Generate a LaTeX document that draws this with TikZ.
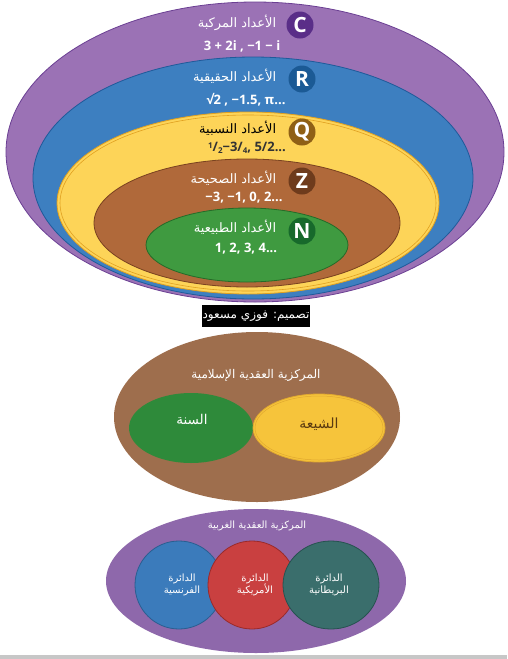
\documentclass[tikz,border=0pt]{standalone}
\usepackage{fontspec}
\setmainfont{Open Sans}
\newfontfamily\arabicfont[Script=Arabic]{DejaVu Sans}
\TeXXeTstate=1

% colours
\definecolor{cplfill}{HTML}{9B72B5}
\definecolor{cpldraw}{HTML}{6B3F93}
\definecolor{relfill}{HTML}{3D7FC0}
\definecolor{reldraw}{HTML}{1F5A9A}
\definecolor{ratfill}{HTML}{FDD458}
\definecolor{ratdraw}{HTML}{E0A020}
\definecolor{intfill}{HTML}{B0693A}
\definecolor{intdraw}{HTML}{7A4220}
\definecolor{natfill}{HTML}{3F9A40}
\definecolor{natdraw}{HTML}{256B28}
\definecolor{cpldisk}{HTML}{5A2E88}
\definecolor{reldisk}{HTML}{1B5A95}
\definecolor{ratdisk}{HTML}{8F6016}
\definecolor{intdisk}{HTML}{6E3B1C}
\definecolor{natdisk}{HTML}{17692B}
\definecolor{islfill}{HTML}{9E6E4D}
\definecolor{sunfill}{HTML}{2E8A3A}
\definecolor{shifill}{HTML}{F6C43B}
\definecolor{shidraw}{HTML}{E0A830}
\definecolor{shitext}{HTML}{5A3A10}
\definecolor{wstfill}{HTML}{8E68AB}
\definecolor{frfill}{HTML}{3B7BBB}
\definecolor{frdraw}{HTML}{2A5E90}
\definecolor{usfill}{HTML}{C94040}
\definecolor{usdraw}{HTML}{9A2A2A}
\definecolor{ukfill}{HTML}{3A6E6C}
\definecolor{ukdraw}{HTML}{275250}

\newcommand{\artxt}[1]{{\arabicfont\beginR #1\endR}}
\newcommand{\sfrac}[2]{\raisebox{0.45ex}{\footnotesize #1}/\raisebox{-0.35ex}{\footnotesize #2}}

\tikzset{
  setletter/.style={circle, fill=#1, text=white, font=\bfseries\fontsize{21}{22}\selectfont,
    minimum size=27pt, inner sep=0pt},
  setname/.style={anchor=east, text=white, font=\fontsize{13}{15}\selectfont},
  setnums/.style={text=white, font=\bfseries\fontsize{13}{15}\selectfont},
  vennlabel/.style={text=white, align=center, font=\fontsize{12}{14}\selectfont},
  smalllabel/.style={text=white, align=center, font=\fontsize{10}{12.5}\selectfont}
}

\begin{document}
\begin{tikzpicture}[x=1pt, y=-1pt, line width=0.8pt]

\useasboundingbox (0,0) rectangle (507,659);
\fill[white] (0,0) rectangle (507,659);

% Nested number sets
\filldraw[fill=cplfill, draw=cpldraw] (255,152) ellipse [x radius=249, y radius=150];
\filldraw[fill=relfill, draw=reldraw] (253,178) ellipse [x radius=220, y radius=121];
\filldraw[fill=ratfill, draw=ratdraw] (248,203) ellipse [x radius=191, y radius=91];
\draw[ratdraw, line width=0.6pt] (248,203) ellipse [x radius=188, y radius=88];
\filldraw[fill=intfill, draw=intdraw] (247,223) ellipse [x radius=153, y radius=64];
\filldraw[fill=natfill, draw=natdraw] (247,245) ellipse [x radius=101, y radius=37];

% Set letters
\node[setletter=cpldisk] (C) at (300,25) {C};
\node[setletter=reldisk] (R) at (302,79) {R};
\node[setletter=ratdisk] (Q) at (302,132) {Q};
\node[setletter=intdisk] (Z) at (302,181) {Z};
\node[setletter=natdisk] (N) at (302,231) {N};

% Set names
\node[setname] (cname) at (280,23) {\artxt{الأعداد المركبة}};
\node[setname] (rname) at (280,76) {\artxt{الأعداد الحقيقية}};
\node[setname, text=black] (qname) at (280,128) {\artxt{الأعداد النسبية}};
\node[setname] (zname) at (280,178) {\artxt{الأعداد الصحيحة}};
\node[setname] (nname) at (280,227) {\artxt{الأعداد الطبيعية}};

% Examples
\node[setnums] (cnums) at (242,46) {3 + 2i , −1 − i};
\node[setnums] (rnums) at (246,100) {√2 , −1.5, π...};
\node[setnums, text=black!80] (qnums) at (247,148) {\sfrac{1}{2}−3/\raisebox{-0.35ex}{\footnotesize 4}, 5/2...};
\node[setnums] (znums) at (244,198) {−3, −1, 0, 2...};
\node[setnums] (nnums) at (246,249) {1, 2, 3, 4...};

% Credit
\node[fill=black, text=white, font=\fontsize{12}{14}\selectfont, minimum width=108pt,
  minimum height=22pt, inner sep=1pt] (credit) at (256,316) {\artxt{تصميم: فوزي مسعود}};

% Islamic centrality
\fill[islfill] (257,417) ellipse [x radius=143, y radius=85];
\fill[sunfill] (191,428) ellipse [x radius=62, y radius=35];
\filldraw[fill=shifill, draw=shidraw] (319,428) ellipse [x radius=66, y radius=34];
\draw[shidraw, line width=0.5pt] (319,428) ellipse [x radius=64, y radius=32];
\node[vennlabel] (islam) at (256,375) {\artxt{المركزية العقدية الإسلامية}};
\node[vennlabel, font=\fontsize{13.5}{15}\selectfont] (sunna) at (192,419) {\artxt{السنة}};
\node[vennlabel, text=shitext, font=\fontsize{14}{16}\selectfont] (shia) at (319,424) {\artxt{الشيعة}};

% Western centrality
\fill[wstfill] (256,581) ellipse [x radius=150, y radius=72];
\filldraw[fill=frfill, draw=frdraw] (179,585) circle [radius=44];
\filldraw[fill=usfill, draw=usdraw] (252,585) circle [radius=44];
\filldraw[fill=ukfill, draw=ukdraw] (331,585) ellipse [x radius=48, y radius=44];
\node[smalllabel] (west) at (257,526) {\artxt{المركزية العقدية الغربية}};
\node[smalllabel] (france) at (182,585) {\artxt{الدائرة}\\\artxt{الفرنسية}};
\node[smalllabel] (usa) at (255,585) {\artxt{الدائرة}\\\artxt{الأمريكية}};
\node[smalllabel] (uk) at (329,585) {\artxt{الدائرة}\\\artxt{البريطانية}};

% bottom strip
\fill[black!22] (0,655) rectangle (507,659);

\end{tikzpicture}
\end{document}
